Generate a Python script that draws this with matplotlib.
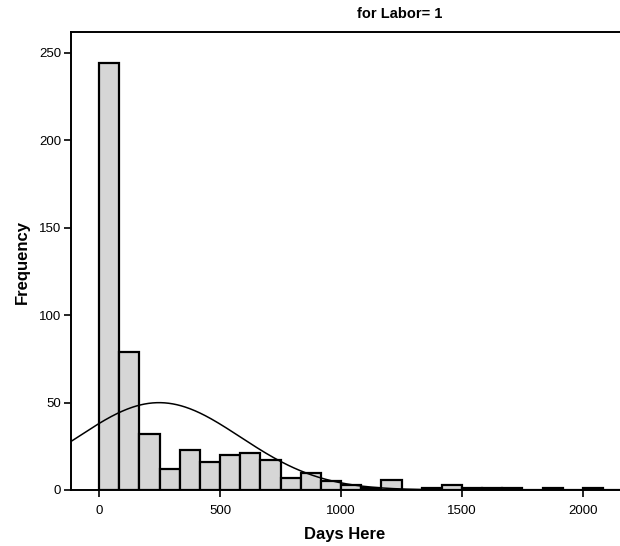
import numpy as np
import matplotlib
matplotlib.use("Agg")
import matplotlib.pyplot as plt

# Histogram data (bin edges start at 0, width ~83.3 days)
bin_start = 0.0
bin_width = 1000.0 / 12
counts = [244, 79, 32, 12, 23, 16, 20, 21, 17, 7, 10, 5, 3, 1, 6, 0, 1, 3,
          1, 1, 1, 0, 1, 0, 1, 0]
# Normal curve parameters
curve_mean = 248.0
curve_sd = 336.0
curve_n = sum(counts)

x_ticks = [0, 500, 1000, 1500, 2000]
y_ticks = [0, 50, 100, 150, 200, 250]
title_text = "for Labor= 1"
x_label = "Days Here"
y_label = "Frequency"

plt.rcParams['font.family'] = ['Liberation Sans', 'DejaVu Sans']

W, H = 620, 546
fig = plt.figure(figsize=(W / 100, H / 100), dpi=100)
ax = fig.add_axes([71 / W, 56 / H, 1 - 71 / W, (490 - 32) / H])

lefts = [bin_start + i * bin_width for i in range(len(counts))]
ax.bar(lefts, counts, width=bin_width, align='edge', color='#d6d6d6',
       edgecolor='black', linewidth=1.6, zorder=2)

xs = np.linspace(-200, 2300, 600)
ys = curve_n * bin_width / (curve_sd * np.sqrt(2 * np.pi)) * \
    np.exp(-0.5 * ((xs - curve_mean) / curve_sd) ** 2)
ax.plot(xs, ys, color='black', linewidth=1.1, zorder=3)

ax.set_xlim(-116, 2153)
ax.set_ylim(0, 262)
ax.set_xticks(x_ticks)
ax.set_yticks(y_ticks)
ax.spines['right'].set_visible(False)
for s in ['left', 'top', 'bottom']:
    ax.spines[s].set_linewidth(1.4)
ax.tick_params(axis='both', direction='out', length=5, width=1.2,
               labelsize=9.5, pad=2)
ax.tick_params(axis='x', pad=6)

fig.text(400 / W, 1 - 14 / H, title_text, ha='center', va='center',
         fontsize=10.5, fontweight='bold')
fig.text(345 / W, 1 - 534 / H, x_label, ha='center', va='center',
         fontsize=12, fontweight='bold')
fig.text(22 / W, 1 - 262 / H, y_label, ha='center', va='center',
         fontsize=12, fontweight='bold', rotation=90)

fig.savefig("out.png", dpi=100)
